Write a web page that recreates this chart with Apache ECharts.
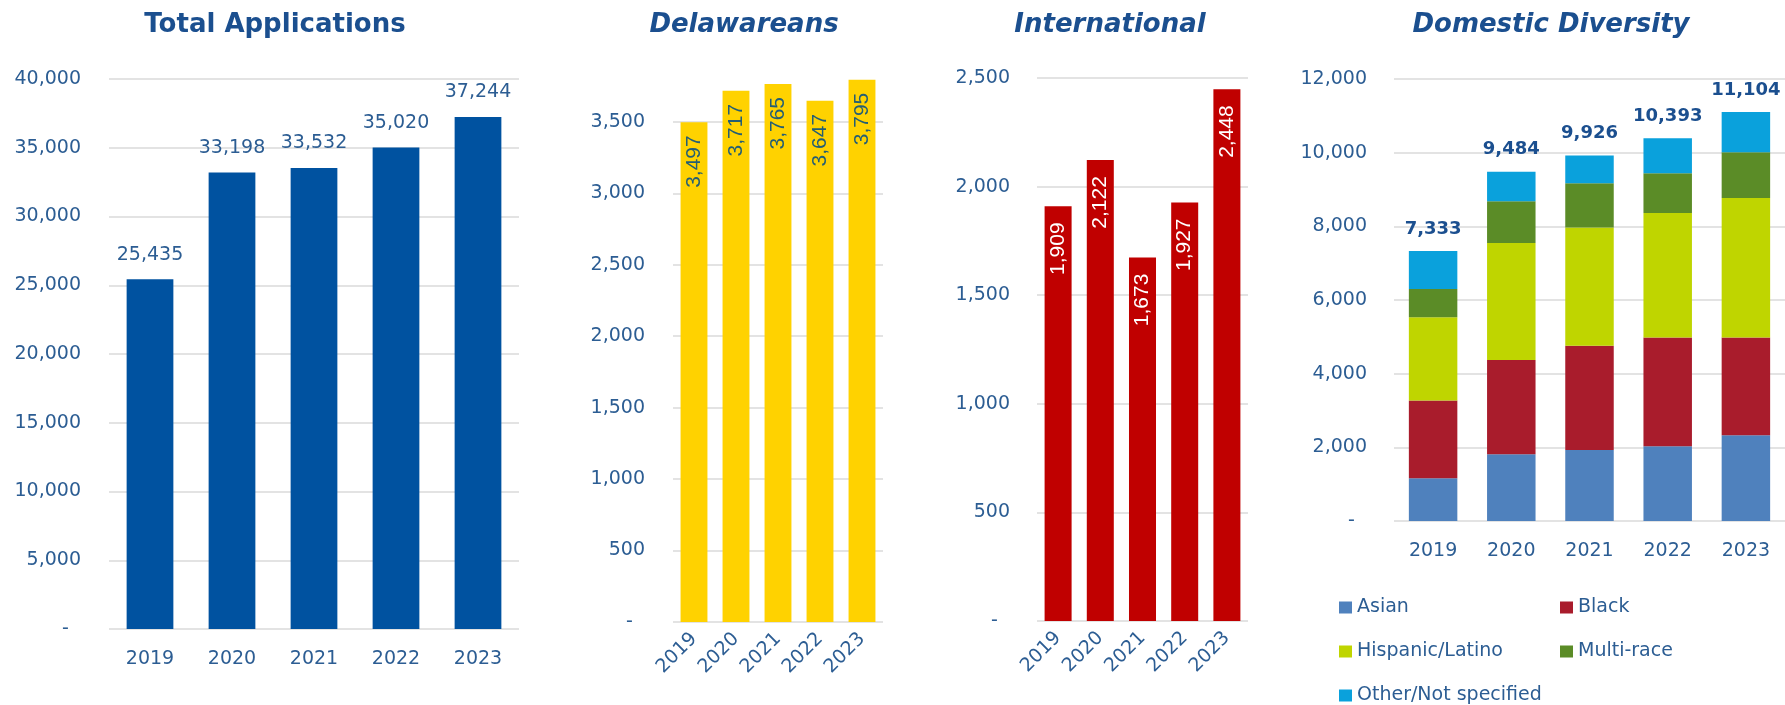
<!DOCTYPE html>
<html>
<head>
<meta charset="utf-8">
<script src="https://cdn.jsdelivr.net/npm/echarts@6/dist/echarts.min.js"></script>
<style>html,body{margin:0;padding:0;background:#fff}#c{width:1785px;height:705px}</style>
</head>
<body>
<div id="c"></div>
<script>
const years = ['2019', '2020', '2021', '2022', '2023'];
const totalApplications = [25435, 33198, 33532, 35020, 37244];
const delawareans = [3497, 3717, 3765, 3647, 3795];
const international = [1909, 2122, 1673, 1927, 2448];
const asian = [1160, 1810, 1930, 2030, 2330];
const black = [2110, 2560, 2830, 2950, 2650];
const hispanicLatino = [2260, 3180, 3210, 3380, 3790];
const multiRace = [770, 1130, 1200, 1080, 1240];
const otherNotSpecified = [1033, 804, 756, 953, 1094];
const diversityTotals = [7333, 9484, 9926, 10393, 11104];

const titleColor = '#1B4F8F';
const labelColor = '#2C5D93';
const gridColor = '#DADADA';
const FONT = 'DejaVu Sans';
const fmt = v => v === 0 ? '-' : v.toLocaleString('en-US');

function yAxis(gi, max, interval, margin) {
  return {
    type: 'value', gridIndex: gi, min: 0, max: max, interval: interval,
    axisLine: {show: false}, axisTick: {show: false},
    splitLine: {show: true, showMaxLine: max % interval === 0, lineStyle: {color: gridColor, width: 1.5}},
    axisLabel: {
      color: labelColor, fontFamily: FONT, fontSize: 19, margin: margin,
      showMaxLabel: max % interval === 0,
      formatter: v => (v === 0 ? '-  ' : (v % interval === 0 ? fmt(v) : ''))
    }
  };
}
function xAxis(gi, rotate, margin) {
  return {
    type: 'category', gridIndex: gi, data: years,
    axisLine: {show: false}, axisTick: {show: false},
    axisLabel: {color: labelColor, fontFamily: FONT, fontSize: 19, rotate: rotate, margin: margin, interval: 0}
  };
}
function title(text, x, italic) {
  return {
    text: text, left: x, top: 7, textAlign: 'center',
    textStyle: {color: titleColor, fontFamily: FONT, fontSize: 26, fontWeight: 'bold', fontStyle: italic ? 'italic' : 'normal'}
  };
}
function stack(name, data, color, extra) {
  return Object.assign({
    name: name, type: 'bar', stack: 'd', xAxisIndex: 3, yAxisIndex: 3,
    data: data, barWidth: '62%', itemStyle: {color: color}
  }, extra || {});
}
function legend(name, x, yCenter) {
  return {
    data: [name], left: x, top: yCenter - 11, itemWidth: 13, itemHeight: 12, icon: 'rect',
    textStyle: {color: labelColor, fontFamily: FONT, fontSize: 19}
  };
}

const option = {
  animation: false,
  title: [
    title('Total Applications', 270, false),
    title('Delawareans', 739, true),
    title('International', 1105, true),
    title('Domestic Diversity', 1546, true)
  ],
  grid: [
    {left: 109, top: 79, width: 410, height: 550},
    {left: 673, top: 79, width: 210, height: 543},
    {left: 1037, top: 78, width: 211, height: 543},
    {left: 1394, top: 79, width: 393, height: 442}
  ],
  xAxis: [xAxis(0, 0, 21), xAxis(1, 45, 14), xAxis(2, 45, 14), xAxis(3, 0, 21)],
  yAxis: [yAxis(0, 40000, 5000, 28), yAxis(1, 3800, 500, 28), yAxis(2, 2500, 500, 27), yAxis(3, 12000, 2000, 27)],
  legend: [
    legend('Asian', 1334, 604),
    legend('Black', 1555, 604),
    legend('Hispanic/Latino', 1334, 648),
    legend('Multi-race', 1555, 648),
    legend('Other/Not specified', 1334, 692)
  ],
  series: [
    {type: 'bar', xAxisIndex: 0, yAxisIndex: 0, data: totalApplications, barWidth: '57%',
     itemStyle: {color: '#0052A0'},
     label: {show: true, position: 'top', distance: 15, color: labelColor, fontFamily: FONT, fontSize: 19,
             formatter: p => fmt(p.value)}},
    {type: 'bar', xAxisIndex: 1, yAxisIndex: 1, data: delawareans, barWidth: '64%',
     itemStyle: {color: '#FFD200'},
     label: {show: true, position: 'insideTop', distance: 13, rotate: 90, align: 'right', verticalAlign: 'middle',
             color: '#245E74', fontFamily: 'Liberation Sans', fontSize: 21, formatter: p => fmt(p.value)}},
    {type: 'bar', xAxisIndex: 2, yAxisIndex: 2, data: international, barWidth: '64%',
     itemStyle: {color: '#C00000'},
     label: {show: true, position: 'insideTop', distance: 16, rotate: 90, align: 'right', verticalAlign: 'middle',
             color: '#FFFFFF', fontFamily: 'Liberation Sans', fontSize: 21, formatter: p => fmt(p.value)}},
    stack('Asian', asian, '#4F81BD'),
    stack('Black', black, '#A91C2C'),
    stack('Hispanic/Latino', hispanicLatino, '#BFD500'),
    stack('Multi-race', multiRace, '#5B8C27'),
    stack('Other/Not specified', otherNotSpecified, '#0AA1DC', {
      label: {show: true, position: 'top', distance: 13, color: titleColor, fontFamily: FONT, fontSize: 18,
              fontWeight: 'bold', formatter: p => fmt(diversityTotals[p.dataIndex])}
    })
  ]
};
const chart = echarts.init(document.getElementById('c'), null, {renderer: 'canvas'});
chart.setOption(option);
</script>
</body>
</html>
